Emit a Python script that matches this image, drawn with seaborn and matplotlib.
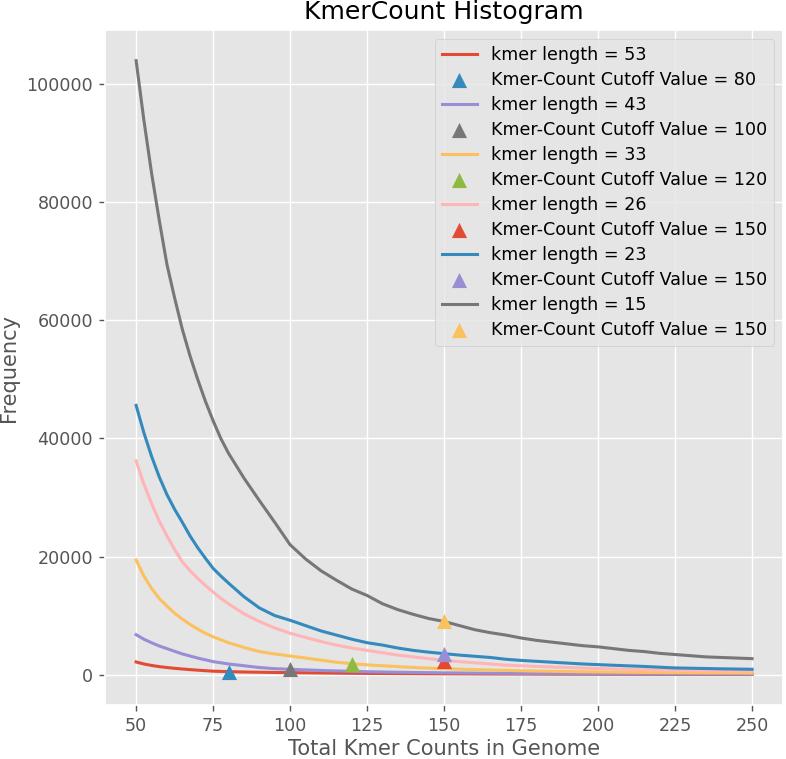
import numpy as np
import pandas as pd
import matplotlib
matplotlib.use("Agg")
import matplotlib.pyplot as plt
import seaborn as sns

# x positions of the histogram (total kmer counts)
counts = [50, 52.5, 55, 57.5, 60, 62.5, 65, 67.5, 70, 72.5, 75, 77.5, 80,
          85, 90, 95, 100, 105, 110, 115, 120, 125, 130, 135, 140, 145, 150,
          155, 160, 165, 170, 175, 180, 185, 190, 195, 200, 205, 210, 215, 220,
          225, 230, 235, 240, 245, 250]

kmer_lengths = [53, 43, 33, 26, 23, 15]

freq_53 = [2140, 1800, 1550, 1350, 1200, 1060, 950, 840, 750, 660, 580, 540, 500,
           440, 400, 360, 330, 300, 270, 245, 220, 200, 185, 170, 155, 140, 130,
           120, 110, 100, 95, 88, 82, 76, 70, 65, 60, 56, 52, 48, 45, 42, 39, 36,
           33, 31, 29]
freq_43 = [6760, 6000, 5400, 4850, 4400, 3950, 3500, 3150, 2800, 2500, 2200, 2000, 1800,
           1500, 1200, 1000, 900, 800, 700, 620, 550, 490, 440, 400, 360, 330, 300,
           275, 250, 230, 210, 195, 180, 170, 160, 150, 140, 132, 125, 118, 110, 105,
           100, 95, 90, 85, 80]
freq_33 = [19400, 16700, 14600, 12900, 11600, 10400, 9400, 8500, 7700, 7000, 6400, 5900,
           5400, 4600, 3900, 3500, 3150, 2800, 2450, 2100, 1850, 1650, 1500, 1350, 1200,
           1100, 1000, 920, 840, 770, 710, 650, 600, 560, 520, 480, 450, 420, 390, 370,
           350, 330, 310, 295, 280, 265, 250]
freq_26 = [36200, 32300, 29000, 26000, 23500, 21200, 19100, 17600, 16300, 15100, 14000,
           12900, 12000, 10300, 9000, 7900, 7000, 6300, 5600, 5000, 4500, 4100, 3700,
           3300, 3000, 2700, 2400, 2200, 2000, 1800, 1600, 1500, 1380, 1290, 1200, 1100,
           1020, 950, 880, 820, 770, 720, 680, 650, 620, 600, 580]
freq_23 = [45600, 41000, 37000, 33500, 30500, 28000, 25800, 23500, 21500, 19700, 18000,
           16700, 15500, 13200, 11300, 10000, 9200, 8300, 7400, 6700, 6000, 5400, 5000,
           4500, 4100, 3800, 3550, 3300, 3100, 2900, 2600, 2400, 2250, 2100, 1950, 1800,
           1690, 1580, 1480, 1380, 1250, 1130, 1080, 1030, 980, 940, 900]
freq_15 = [104000, 94000, 85000, 77000, 69500, 63800, 58500, 54000, 50000, 46300, 43000,
           40000, 37500, 33300, 29500, 25800, 22000, 19600, 17600, 16000, 14500, 13400,
           12000, 11000, 10200, 9500, 9000, 8300, 7600, 7100, 6700, 6200, 5800, 5500,
           5200, 4900, 4700, 4400, 4100, 3900, 3600, 3400, 3200, 3000, 2900, 2800, 2700]

cutoffs = [80, 100, 120, 150, 150, 150]
cutoff_freq = [500, 900, 1850, 2300, 3450, 9000]

freqs = [freq_53, freq_43, freq_33, freq_26, freq_23, freq_15]

plt.style.use("ggplot")
cycle = plt.rcParams["axes.prop_cycle"].by_key()["color"]

dpi = 126
fig = plt.figure(figsize=(786 / dpi, 759 / dpi), dpi=dpi)
ax = fig.add_axes([0.134, 0.071, 0.862, 0.8895])

handles = []
ci = 0
for k, f, c, cf in zip(kmer_lengths, freqs, cutoffs, cutoff_freq):
    df = pd.DataFrame({"count": counts, "freq": f})
    sns.lineplot(data=df, x="count", y="freq", color=cycle[ci % len(cycle)],
                 linewidth=1.75, label="kmer length = %d" % k, ax=ax, legend=False)
    handles.append(ax.lines[-1])
    ci += 1
    sns.scatterplot(x=[c], y=[cf], marker="^", s=75, color=cycle[ci % len(cycle)],
                    linewidth=0, zorder=3, label="Kmer-Count Cutoff Value = %d" % c,
                    ax=ax, legend=False)
    handles.append(ax.collections[-1])
    ci += 1

ax.legend(handles=handles, labels=[h.get_label() for h in handles],
          loc="upper right", fontsize=10, labelspacing=0.4)
ax.set_title("KmerCount Histogram")
ax.set_xlabel("Total Kmer Counts in Genome", labelpad=2)
ax.set_ylabel("Frequency")
ax.set_xticks([50, 75, 100, 125, 150, 175, 200, 225, 250])

fig.savefig("out.png", dpi=dpi)
